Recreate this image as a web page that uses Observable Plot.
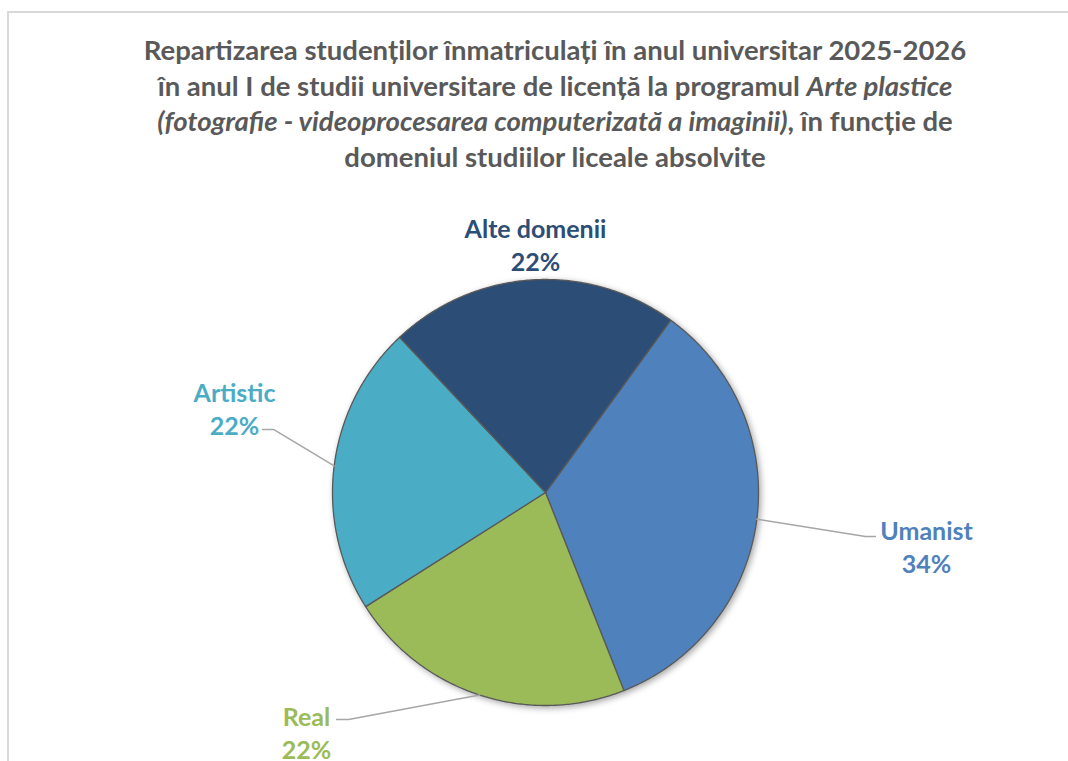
<!DOCTYPE html>
<html><head><meta charset="utf-8">
<script src="https://cdn.jsdelivr.net/npm/d3@7"></script>
<script src="https://cdn.jsdelivr.net/npm/@observablehq/plot@0.6"></script>
<style>
html,body{margin:0;padding:0;background:#fff;}
body{width:1068px;height:761px;overflow:hidden;position:relative;font-family:Lato,"Open Sans",sans-serif;}
#frame{position:absolute;left:7px;top:11px;width:1200px;height:900px;border-left:2px solid #D9D9D9;border-top:2px solid #D9D9D9;box-sizing:border-box;}
#title{position:absolute;left:0;top:32px;width:1110px;text-align:center;color:#595959;font-weight:bold;font-size:27.5px;line-height:35.5px;white-space:nowrap;}
#chart{position:absolute;left:0;top:0;}
</style></head>
<body>
<div id="frame"></div>
<div id="chart"></div>
<div id="title">Repartizarea studenților înmatriculați în anul universitar 2025-2026<br>în anul I de studii universitare de licență la programul <i>Arte plastice</i><br><i>(fotografie - videoprocesarea computerizată a imaginii)</i>, în funcție de<br>domeniul studiilor liceale absolvite</div>
<script>
// ---- data ----
const categories = ["Umanist", "Real", "Artistic", "Alte domenii"];
const values = [34, 22, 22, 22];
const percentLabels = ["34%", "22%", "22%", "22%"];
const colors = ["#4F81BD", "#9BBB59", "#4BACC6", "#2C4D75"];

// ---- layout (in pie-radius units) ----
const W = 1068, H = 761, CX = 545, CY = 492, R = 213;
const START = 36 * Math.PI / 180;
const labelX = [1.789, -1.122, -1.460, -0.047];
const labelY = [-0.249, -1.122, 0.399, 1.169];
const leaderElbow = [[1.502, -0.207], [-0.925, -1.066], [-1.277, 0.296], null];
const leaderEnd = [[1.549, -0.207], [-0.981, -1.066], [-1.329, 0.296], null];

const arcs = d3.pie().sort(null).value(d => d).startAngle(START).endAngle(START + 2 * Math.PI)(values);
const slicePts = [];
const leaderPts = [];
const labelData = [];
arcs.forEach((a, i) => {
  const cat = categories[i];
  slicePts.push({cat, x: 0, y: 0});
  const n = Math.max(2, Math.ceil((a.endAngle - a.startAngle) / (Math.PI / 360)));
  for (let k = 0; k <= n; k++) {
    const t = a.startAngle + (a.endAngle - a.startAngle) * k / n;
    slicePts.push({cat, x: Math.sin(t), y: Math.cos(t)});
  }
  slicePts.push({cat, x: 0, y: 0});
  const mid = (a.startAngle + a.endAngle) / 2;
  if (leaderElbow[i]) {
    leaderPts.push({cat, x: Math.sin(mid), y: Math.cos(mid)});
    leaderPts.push({cat, x: leaderElbow[i][0], y: leaderElbow[i][1]});
    leaderPts.push({cat, x: leaderEnd[i][0], y: leaderEnd[i][1]});
  }
  labelData.push({cat, x: labelX[i], y: labelY[i], t: cat + "\n" + percentLabels[i]});
});

const plot = Plot.plot({
  width: W, height: H, margin: 0,
  x: {domain: [-CX / R, (W - CX) / R], range: [0, W], axis: null},
  y: {domain: [-(H - CY) / R, CY / R], range: [H, 0], axis: null},
  color: {domain: categories, range: colors},
  style: {background: "transparent", fontFamily: "Lato, 'Open Sans', sans-serif", overflow: "visible"},
  marks: [
    Plot.line(slicePts, {x: "x", y: "y", z: "cat", fill: "cat", stroke: "#595959", strokeWidth: 1.3, strokeLinejoin: "round", curve: "linear"}),
    Plot.line(leaderPts, {x: "x", y: "y", z: "cat", stroke: "#A6A6A6", strokeWidth: 1.5, curve: "linear"}),
    Plot.text(labelData, {x: "x", y: "y", text: "t", fill: "cat", fontSize: 25, fontWeight: "bold", lineHeight: 1.32})
  ]
});
const g = plot.querySelector('g[aria-label="line"]');
if (g) g.style.filter = "drop-shadow(2px 2px 3px rgba(0,0,0,0.35))";
document.getElementById("chart").appendChild(plot);
</script>
</body></html>
